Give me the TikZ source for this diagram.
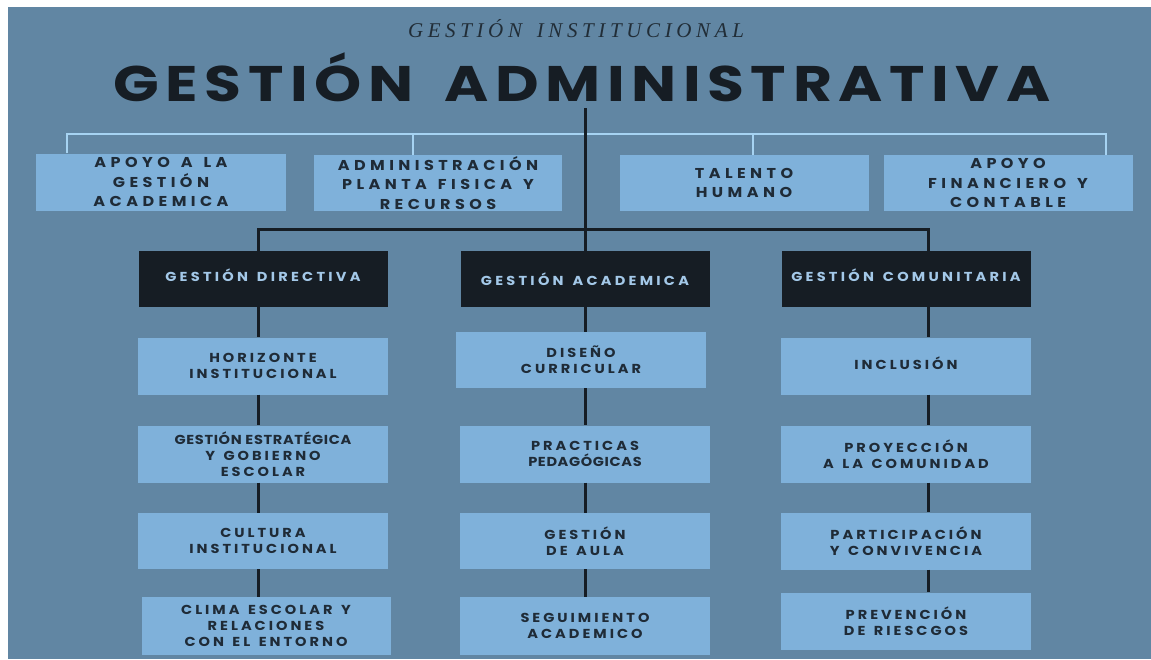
\documentclass[tikz,border=0pt]{standalone}
\usepackage{fontspec}
\usetikzlibrary{positioning}

\newfontfamily\wideFont[LetterSpace=23,WordSpace=1.4,FakeStretch=1.12]{Poppins}
\newfontfamily\unitFont[LetterSpace=31,WordSpace=1.4,FakeStretch=1.12]{Poppins}
\newfontfamily\headFont[LetterSpace=25,WordSpace=1.4,FakeStretch=1.12]{Poppins}
\newfontfamily\tightFont[LetterSpace=5,FakeStretch=1.12]{Poppins}
\newfontfamily\titleFont[LetterSpace=11,WordSpace=1.6]{Poppins}
\newfontfamily\subFont[LetterSpace=22,WordSpace=1.5]{Liberation Serif}

\definecolor{bgblue}{HTML}{6186A3}
\definecolor{boxblue}{HTML}{7FB1DA}
\definecolor{darkbox}{HTML}{161D24}
\definecolor{inktext}{HTML}{1F2B37}
\definecolor{paletext}{HTML}{A3C8E8}
\definecolor{barblue}{HTML}{A6D3F2}

\begin{document}
\begin{tikzpicture}[x=1pt,y=-1pt,
    unit box/.style={fill=boxblue,text=inktext,align=center,inner sep=0pt,
                     minimum width=250pt,minimum height=57pt,
                     font=\unitFont\bfseries\fontsize{14.3}{19.5}\selectfont},
    item box/.style={fill=boxblue,text=inktext,align=center,inner sep=0pt,
                     minimum width=250pt,minimum height=57pt,
                     font=\wideFont\bfseries\fontsize{13}{16}\selectfont},
    head box/.style={fill=darkbox,text=paletext,align=center,inner sep=0pt,
                     minimum width=249pt,minimum height=56pt,
                     font=\headFont\bfseries\fontsize{13}{15}\selectfont},
    dark line/.style={draw=darkbox,line width=3pt},
    light line/.style={draw=barblue,line width=2.5pt}]

  \useasboundingbox (0,0) rectangle (1151,659);
  \fill[bgblue] (8,7) rectangle (1151,659);

  % titles
  \node (sub) at (576,29) {\subFont\itshape\fontsize{21}{24}\selectfont\color{darkbox!85!bgblue}GESTIÓN INSTITUCIONAL};
  \node (title) at (582,77) {\scalebox{1.2}[1]{\titleFont\bfseries\fontsize{50}{55}\selectfont\color{darkbox}GESTIÓN ADMINISTRATIVA}};

  % upper units
  \node[unit box] (a1) at (161,182) {APOYO A LA\\GESTIÓN\\ACADEMICA};
  \node[unit box,minimum width=248pt,minimum height=56pt] (a2) at (438,183) {ADMINISTRACIÓN\\PLANTA FISICA Y\\RECURSOS};
  \node[unit box,minimum width=249pt,minimum height=56pt] (a3) at (744,183) {TALENTO\\HUMANO};
  \node[unit box,minimum width=249pt,minimum height=56pt] (a4) at (1008,183) {APOYO\\FINANCIERO Y\\CONTABLE};

  % heads
  \node[head box] (gd) at (263,279) {\raisebox{7pt}{GESTIÓN DIRECTIVA}};
  \node[head box] (ga) at (585,279) {GESTIÓN ACADEMICA};
  \node[head box] (gc) at (906,279) {\raisebox{7pt}{GESTIÓN COMUNITARIA}};

  % directiva
  \node[item box] (h1) at (263,366) {HORIZONTE\\INSTITUCIONAL};
  \node[item box] (h2) at (263,454) {{\tightFont\bfseries GESTIÓN ESTRATÉGICA}\\Y GOBIERNO\\ESCOLAR};
  \node[item box,minimum height=56pt] (h3) at (263,541) {CULTURA\\INSTITUCIONAL};
  \node[item box,minimum width=249pt,minimum height=58pt] (h4) at (266,626) {CLIMA ESCOLAR Y\\RELACIONES\\CON EL ENTORNO};

  % academica
  \node[item box,minimum height=56pt] (d1) at (581,360) {DISEÑO\\CURRICULAR};
  \node[item box] (d2) at (585,454) {PRACTICAS\\{\tightFont\bfseries PEDAGÓGICAS}};
  \node[item box,minimum height=56pt] (d3) at (585,541) {GESTIÓN\\DE AULA};
  \node[item box,minimum height=58pt] (d4) at (585,626) {SEGUIMIENTO\\ACADEMICO};

  % comunitaria
  \node[item box] (c1) at (906,366) {\raisebox{6pt}{INCLUSIÓN}};
  \node[item box] (c2) at (906,454) {PROYECCIÓN\\A LA COMUNIDAD};
  \node[item box] (c3) at (906,541) {PARTICIPACIÓN\\Y CONVIVENCIA};
  \node[item box] (c4) at (906,621) {PREVENCIÓN\\DE RIESCGOS};

  % light bar to the units
  \coordinate (bar) at (585,134);
  \coordinate (p1) at (67,0);
  \coordinate (p2) at (413,0);
  \coordinate (p3) at (753,0);
  \coordinate (p4) at (1106,0);
  \draw[light line] (a1.north -| p1) |- (bar) -| (a4.north -| p4);
  \draw[light line] (a2.north -| p2) -- (bar -| p2);
  \draw[light line] (a3.north -| p3) -- (bar -| p3);

  % trunk and heads
  \coordinate (trunk) at (585,108);
  \coordinate (split) at (585,229);
  \coordinate (col1) at (258,0);
  \coordinate (col2) at (585,0);
  \coordinate (col3) at (928,0);
  \draw[dark line] (trunk) -- (ga.north);
  \draw[dark line] (gd.north -| col1) |- (split) -| (gc.north -| col3);

  % columns
  \foreach \a/\b in {gd/h1,h1/h2,h2/h3,h3/h4}
    \draw[dark line] (\a.south -| col1) -- (\b.north -| col1);
  \foreach \a/\b in {ga/d1,d1/d2,d2/d3,d3/d4}
    \draw[dark line] (\a.south -| col2) -- (\b.north -| col2);
  \foreach \a/\b in {gc/c1,c1/c2,c2/c3,c3/c4}
    \draw[dark line] (\a.south -| col3) -- (\b.north -| col3);
\end{tikzpicture}
\end{document}
